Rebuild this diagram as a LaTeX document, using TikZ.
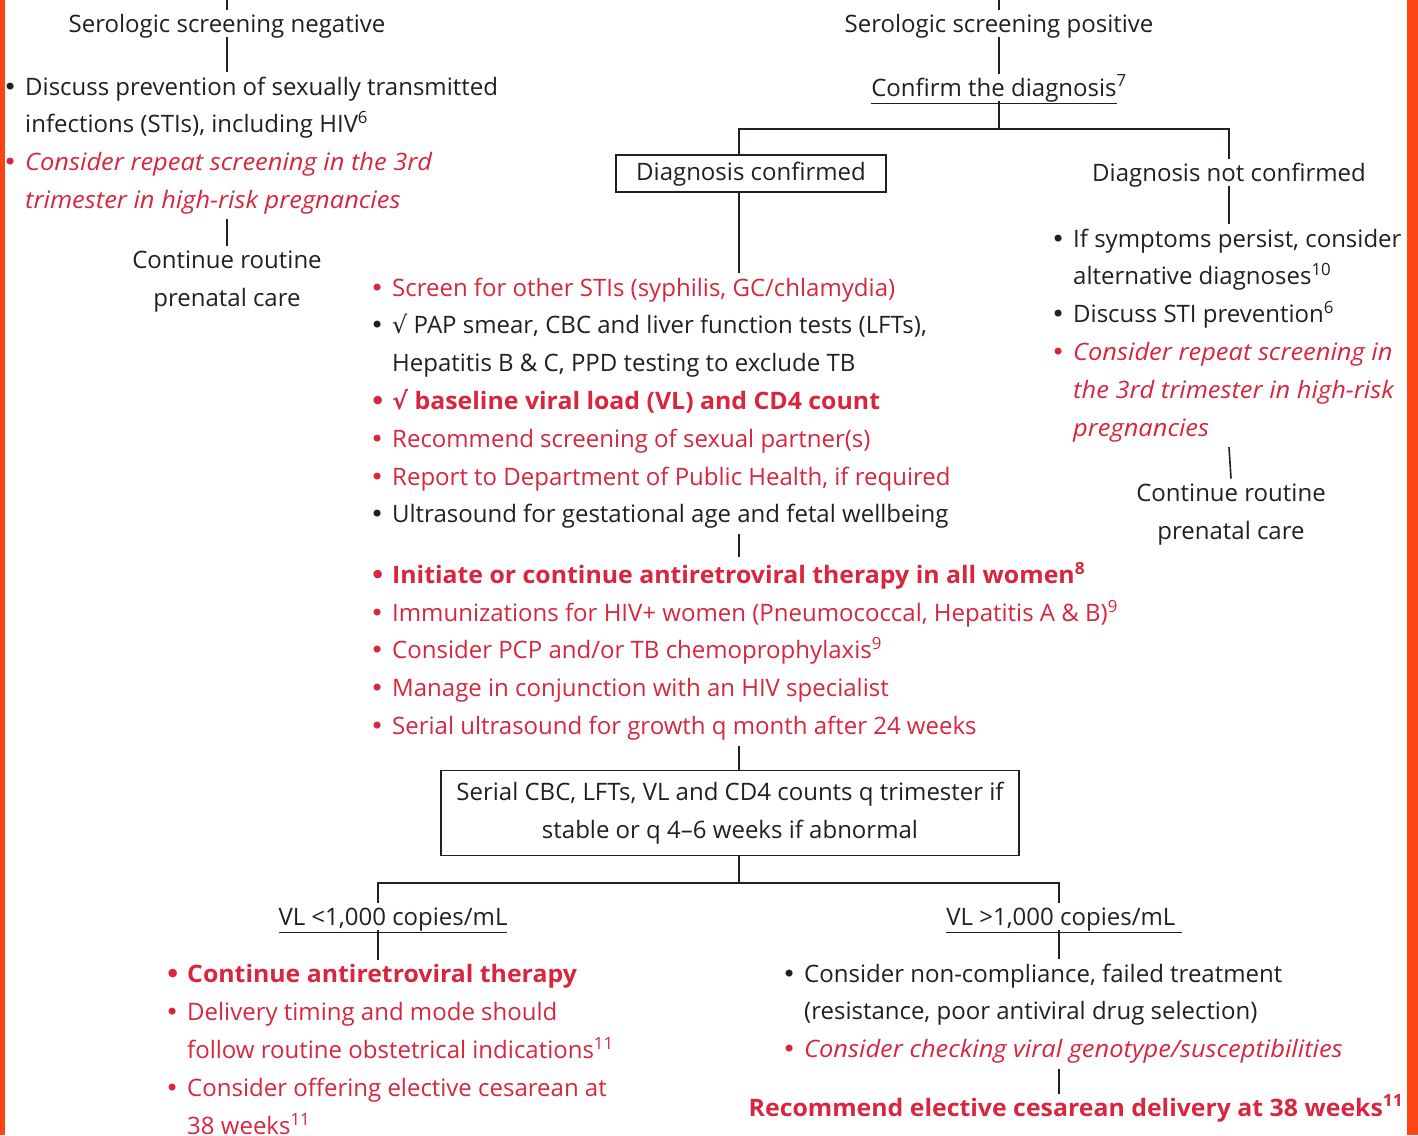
\documentclass[tikz,border=0pt]{standalone}
\usepackage{fontspec}
\setmainfont{Open Sans}
\newfontfamily\symf{DejaVu Sans}

\definecolor{ink}{HTML}{231F20}
\definecolor{hivred}{HTML}{D7263D}
\definecolor{edge}{RGB}{252,68,20}

% bullet with hanging indent, line colours
\newlength{\bw}\setlength{\bw}{22pt}
\newcommand{\bul}{\makebox[\bw][l]{\symf\textbullet}}
\newcommand{\ind}{\hspace*{\bw}}
\newcommand{\chk}{{\symf √}}
\newcommand{\bk}{\color{ink}\normalfont}
\newcommand{\rd}{\color{hivred}\normalfont}
\newcommand{\ri}{\color{hivred}\normalfont\itshape\addfontfeatures{FakeStretch=1.06}}
\newcommand{\rb}{\color{hivred}\normalfont\bfseries\addfontfeatures{FakeStretch=1.035}}

\begin{document}
\begin{tikzpicture}[x=1pt,y=-1pt,
  every node/.style={font=\fontsize{24}{37.8}\selectfont, text=ink, inner sep=0pt},
  lbl/.style={anchor=base, text height=22pt, text depth=5pt},
  list/.style={anchor=north west, align=left, inner ysep=5pt},
  stack/.style={anchor=north, align=center, inner ysep=5pt},
  box/.style={draw=ink, line width=1.6pt, text height=18pt, text depth=5pt},
  link/.style={draw=ink, line width=1.6pt}]

\useasboundingbox (0,0) rectangle (1418,1135);
\fill[edge] (0,0) rectangle (4.5,1135);
\fill[edge] (1407,0) rectangle (1418,1135);

\coordinate (top) at (0,0);
\coordinate (j1) at (999,129);
\coordinate (j2) at (739,883);
\coordinate (b1) at (378,883);
\coordinate (b2) at (1059,883);

% negative branch
\node[lbl] (neg) at (227,32) {Serologic screening negative};
\node[list] (negl) at (3,71.5) {\bk\bul Discuss prevention of sexually transmitted\\\bk\ind infections (STIs), including HIV\textsuperscript{6}\\\ri\bul Consider repeat screening in the 3rd\\\ri\ind trimester in high-risk pregnancies};
\node[stack] (negc) at (227,245.5) {Continue routine\\prenatal care};

% positive branch
\node[lbl] (pos) at (999,32) {Serologic screening positive};
\node[lbl] (conf) at (999,96) {\underline{Confirm the diagnosis}\textsuperscript{7}};
\node[box, minimum width=270pt, minimum height=37pt] (dxc) at (751,173.5) {Diagnosis confirmed};
\node[lbl] (dxn) at (1229,181) {Diagnosis not confirmed};
\node[list] (dxnl) at (1051,223.5) {\bk\bul If symptoms persist, consider\\\bk\ind alternative diagnoses\textsuperscript{10}\\\bk\bul Discuss STI prevention\textsuperscript{6}\\\ri\bul Consider repeat screening in\\\ri\ind the 3rd trimester in high-risk\\\ri\ind pregnancies};
\node[stack] (dxnc) at (1231,478.5) {Continue routine\\prenatal care};

\node[list] (m1) at (370,272.5) {\rd\bul Screen for other STIs (syphilis, GC/chlamydia)\\\bk\bul \chk\ PAP smear, CBC and liver function tests (LFTs),\\\bk\ind Hepatitis B \& C, PPD testing to exclude TB\\\rb\bul \chk\ baseline viral load (VL) and CD4 count\\\rd\bul Recommend screening of sexual partner(s)\\\rd\bul Report to Department of Public Health, if required\\\bk\bul Ultrasound for gestational age and fetal wellbeing};
\node[list] (m2) at (370,557) {\rb\bul Initiate or continue antiretroviral therapy in all women\textsuperscript{8}\\\rd\bul Immunizations for HIV+ women (Pneumococcal, Hepatitis A \& B)\textsuperscript{9}\\\rd\bul Consider PCP and/or TB chemoprophylaxis\textsuperscript{9}\\\rd\bul Manage in conjunction with an HIV specialist\\\rd\bul Serial ultrasound for growth q month after 24 weeks};
\node[draw=ink, line width=1.6pt, align=center, minimum width=578pt, minimum height=85pt] (ser) at (730,813) {Serial CBC, LFTs, VL and CD4 counts q trimester if\\stable or q 4--6 weeks if abnormal};

% viral load split
\node[lbl] (vlo) at (393,925) {\underline{VL <1,000 copies/mL}};
\node[lbl] (vhi) at (1064,925) {\underline{VL >1,000 copies/mL\ }};
\node[list] (bl) at (165,959.5) {\rb\bul Continue antiretroviral therapy\\\rd\bul Delivery timing and mode should\\\rd\ind follow routine obstetrical indications\textsuperscript{11}\\\rd\bul Consider offering elective cesarean at\\\rd\ind 38 weeks\textsuperscript{11}};
\node[list] (br) at (782,958.5) {\bk\bul Consider non-compliance, failed treatment\\\bk\ind (resistance, poor antiviral drug selection)\\\ri\bul Consider checking viral genotype/susceptibilities};
\node[lbl] (rec) at (1076,1116) {\rb Recommend elective cesarean delivery at 38 weeks\textsuperscript{11}};

% connectors
\draw[link] (neg.north) -- (neg.north |- top);
\draw[link] (pos.north) -- (pos.north |- top);
\draw[link] (neg.south) -- (neg.south |- negl.north);
\draw[link] (neg |- negl.south) -- (negc.north);
\draw[link] (pos.south) -- (conf.north);
\draw[link] (conf.south) -- (j1);
\draw[link] (dxc.north -| j2) |- (j1) -| (dxn.north);
\draw[link] (dxn.south) -- (dxn.south |- dxnl.north);
\draw[link] (dxn |- dxnl.south) -- (dxnc.north);
\draw[link] (dxc.south -| j2) -- (j2 |- m1.north);
\draw[link] (j2 |- m1.south) -- (j2 |- m2.north);
\draw[link] (j2 |- m2.south) -- (ser.north -| j2);
\draw[link] (ser.south -| j2) -- (j2);
\draw[link] (b1 |- vlo.north) -- (b1) -- (b2) -- (b2 |- vhi.north);
\draw[link] (b1 |- vlo.south) -- (b1 |- bl.north);
\draw[link] (b2 |- vhi.south) -- (b2 |- br.north);
\draw[link] (b2 |- br.south) -- (b2 |- rec.north);
\end{tikzpicture}
\end{document}
